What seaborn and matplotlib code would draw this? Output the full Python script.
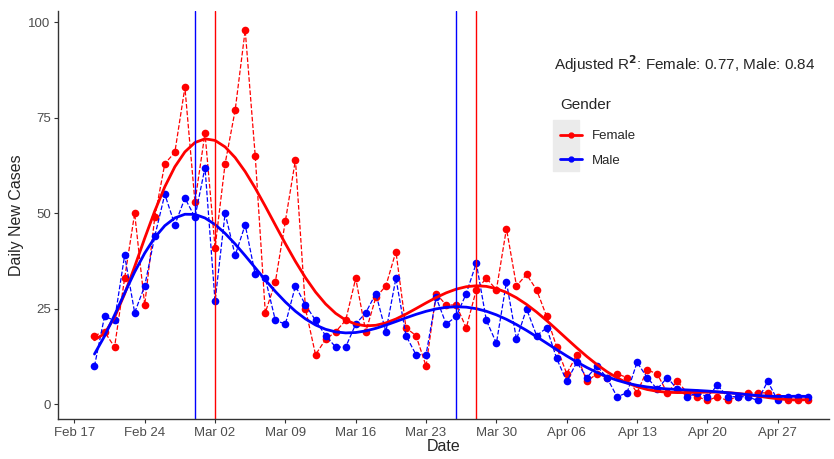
import matplotlib
matplotlib.use("Agg")
import matplotlib.pyplot as plt
import matplotlib.dates as mdates
from matplotlib.patches import Rectangle
import numpy as np
import pandas as pd
import seaborn as sns

sns.set_theme(style="white")
plt.rcParams["font.family"] = ["Liberation Sans", "DejaVu Sans"]

RED, BLUE = "#FF0000", "#0000FF"

dates = pd.date_range("2020-02-19", "2020-04-30", freq="D")
female = [18, 19, 15, 33, 50, 26, 49, 63, 66, 83, 53,
          71, 41, 63, 77, 98, 65, 24, 32, 48, 64, 25, 13, 17, 19, 22, 33, 19, 28, 31, 40,
          20, 18, 10, 29, 26, 26, 20, 30, 33, 30, 46,
          31, 34, 30, 23, 15, 8, 13, 6, 8, 7, 8, 7, 3, 9, 8, 3, 6, 3, 2, 1,
          2, 1, 2, 3, 3, 3, 2, 1, 1, 1]
male = [10, 23, 22, 39, 24, 31, 44, 55, 47, 54, 49,
        62, 27, 50, 39, 47, 34, 33, 22, 21, 31, 26, 22, 18, 15, 15, 21, 24, 29, 19, 33,
        18, 13, 13, 28, 21, 23, 29, 37, 22, 16, 32,
        17, 25, 18, 20, 12, 6, 11, 7, 10, 7, 2, 3, 11, 7, 4, 7, 4, 2, 3, 2,
        5, 2, 2, 2, 1, 6, 1, 2, 2, 2]
peak_female = ["2020-03-02", "2020-03-28"]
peak_male = ["2020-02-29", "2020-03-26"]
r2_female, r2_male = 0.77, 0.84

df = pd.DataFrame({"Date": np.concatenate([dates, dates]),
                   "Cases": female + male,
                   "Gender": ["Female"] * len(dates) + ["Male"] * len(dates)})

# smooth polynomial trend per gender
days = (dates - dates[0]).days.values.astype(float)
fits = []
for g in ["Female", "Male"]:
    y = df.loc[df.Gender == g, "Cases"].values
    p = np.polynomial.Polynomial.fit(days, y, 10)
    fits.append(pd.DataFrame({"Date": dates, "Cases": p(days), "Gender": g}))
fit_df = pd.concat(fits)

fig = plt.figure(figsize=(8.34, 4.59), dpi=100)
ax = fig.add_axes([0.0699, 0.0871, 0.9241, 0.889])
pal = {"Female": RED, "Male": BLUE}

sns.lineplot(data=df, x="Date", y="Cases", hue="Gender", palette=pal, ax=ax,
             linestyle="--", linewidth=0.9, marker="o", markersize=5.5,
             markeredgewidth=0, legend=False)
sns.lineplot(data=fit_df, x="Date", y="Cases", hue="Gender", palette=pal, ax=ax,
             linewidth=2.0, legend=False)

for d in peak_female:
    ax.axvline(pd.Timestamp(d), color=RED, lw=1.0)
for d in peak_male:
    ax.axvline(pd.Timestamp(d), color=BLUE, lw=1.0)

x0 = pd.Timestamp("2020-02-17")
ax.set_xlim(x0 - pd.Timedelta(days=1.6), x0 + pd.Timedelta(days=75.1))
ax.set_ylim(-3.85, 103)
ax.set_yticks([0, 25, 50, 75, 100])
ax.set_xticks(pd.date_range(x0, periods=11, freq="7D"))
ax.xaxis.set_major_formatter(mdates.DateFormatter("%b %d"))
ax.tick_params(axis="both", colors="#333333", labelcolor="#4D4D4D", labelsize=9.5,
               length=3, width=0.8, bottom=True, left=True, pad=2.5)
for s in ["top", "right"]:
    ax.spines[s].set_visible(False)
for s in ["left", "bottom"]:
    ax.spines[s].set_color("#333333")
    ax.spines[s].set_linewidth(1.0)
ax.set_xlabel("Date", fontsize=11.5, labelpad=0)
ax.set_ylabel("Daily New Cases", fontsize=11.5, labelpad=3)

fig.text(554 / 834, 1 - 64 / 459,
         rf"Adjusted R$^\mathbf{{2}}$: Female: {r2_female:.2f}, Male: {r2_male:.2f}",
         fontsize=11, va="center", ha="left")

fig.patches.append(Rectangle((553 / 834, 1 - 171 / 459), 26 / 834, 51 / 459,
                             transform=fig.transFigure, color="#EBEBEB", zorder=0))
handles = [plt.Line2D([], [], color=c, lw=2, marker="o", markersize=3.5)
           for c in [RED, BLUE]]
leg = fig.legend(handles, ["Female", "Male"], title="Gender", loc="upper left",
                 bbox_to_anchor=(548 / 834, 1 - 86 / 459), frameon=False,
                 fontsize=9.5, title_fontsize=11, handlelength=1.7,
                 handletextpad=0.7, labelspacing=0.93)
leg._legend_box.align = "left"
leg._legend_box.sep = 13

fig.savefig("out.png", dpi=100)
